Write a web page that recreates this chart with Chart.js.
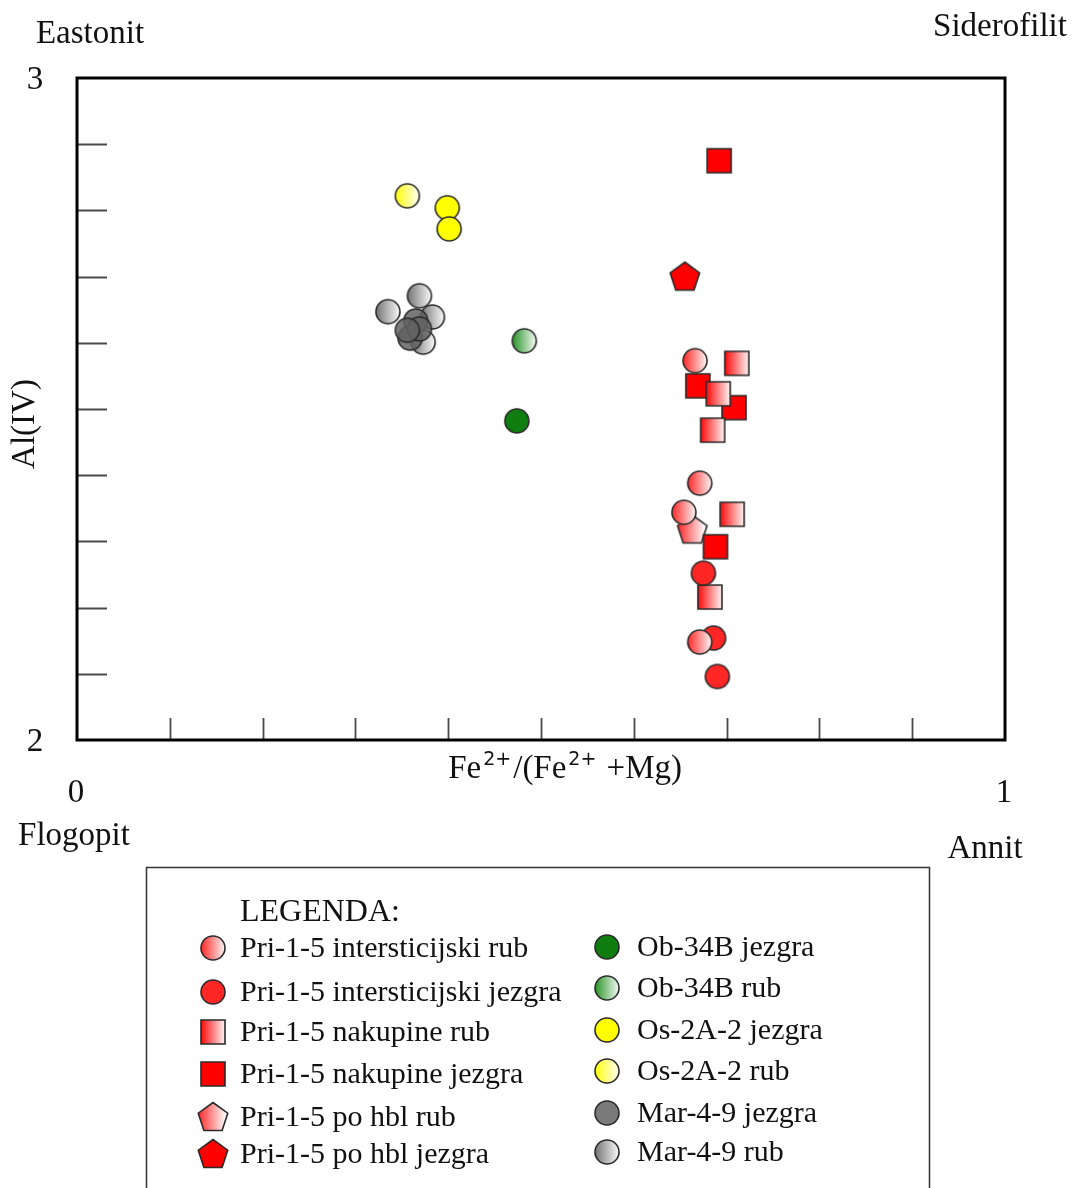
<!DOCTYPE html>
<html>
<head>
<meta charset="utf-8">
<title>Al(IV) - Fe2+/(Fe2++Mg)</title>
<script src="https://cdn.jsdelivr.net/npm/chart.js@4.4.1/dist/chart.umd.min.js"></script>
<style>
  html, body { margin: 0; padding: 0; background: #ffffff; }
  #wrap { width: 1074px; height: 1188px; }
</style>
</head>
<body>
<div id="wrap"><canvas id="biotitChart" width="1074" height="1188"></canvas></div>
<script>
// --- data: [Fe2+/(Fe2++Mg), Al(IV)] ---
const priIntersticijskiRub = [[0.666, 2.573], [0.671, 2.388], [0.654, 2.344], [0.671, 2.148]];
const priIntersticijskiJezgra = [[0.675, 2.252], [0.686, 2.154], [0.690, 2.096]];
const priNakupineRub = [[0.711, 2.569], [0.691, 2.523], [0.685, 2.468], [0.706, 2.341], [0.682, 2.216]];
const priNakupineJezgra = [[0.692, 2.875], [0.669, 2.535], [0.708, 2.502], [0.688, 2.292]];
const priHblRub = [[0.663, 2.318]];
const priHblJezgra = [[0.655, 2.700]];
const obJezgra = [[0.474, 2.482]];
const obRub = [[0.482, 2.603]];
const osJezgra = [[0.399, 2.804], [0.401, 2.772]];
const osRub = [[0.356, 2.822]];
const marJezgra = [[0.365, 2.633], [0.359, 2.607], [0.369, 2.621], [0.356, 2.619]];
const marRub = [[0.335, 2.647], [0.369, 2.671], [0.383, 2.639], [0.373, 2.601]];

const seriesLabels = [
  'Pri-1-5 intersticijski rub', 'Pri-1-5 intersticijski jezgra', 'Pri-1-5 nakupine rub',
  'Pri-1-5 nakupine jezgra', 'Pri-1-5 po hbl rub', 'Pri-1-5 po hbl jezgra',
  'Ob-34B jezgra', 'Ob-34B rub', 'Os-2A-2 jezgra', 'Os-2A-2 rub', 'Mar-4-9 jezgra', 'Mar-4-9 rub'
];
const seriesData = [
  priIntersticijskiRub, priIntersticijskiJezgra, priNakupineRub, priNakupineJezgra, priHblRub, priHblJezgra,
  obJezgra, obRub, osJezgra, osRub, marJezgra, marRub
];

// axis ticks
const xTickValues = [0.1, 0.2, 0.3, 0.4, 0.5, 0.6, 0.7, 0.8, 0.9];
const yTickValues = [2.1, 2.2, 2.3, 2.4, 2.5, 2.6, 2.7, 2.8, 2.9];
const xTickLabels = ['0', '1'];
const yTickLabels = ['2', '3'];

// --- marker look per series: shape, base colour, gradient (rub) or not ---
const markerStyles = [
  { shape: 'circle', color: '#ff1e1e', rub: true },
  { shape: 'circle', color: '#ff1414', rub: false, alpha: 0.92 },
  { shape: 'square', color: '#ff0000', rub: true },
  { shape: 'square', color: '#ff0000', rub: false },
  { shape: 'pentagon', color: '#ff1e1e', rub: true, alpha: 0.9 },
  { shape: 'pentagon', color: '#ff0000', rub: false },
  { shape: 'circle', color: '#0f7d0f', rub: false },
  { shape: 'circle', color: '#1f8f1f', rub: true },
  { shape: 'circle', color: '#ffff00', rub: false },
  { shape: 'circle', color: '#ffff00', rub: true },
  { shape: 'circle', color: '#636363', rub: false, alpha: 0.85 },
  { shape: 'circle', color: '#6e6e6e', rub: true }
];

function makeMarker(st) {
  const size = st.shape === 'pentagon' ? 36 : 30;
  const c = document.createElement('canvas');
  c.width = size;
  c.height = size;
  const ctx = c.getContext('2d');
  const m = size / 2;
  ctx.beginPath();
  if (st.shape === 'circle') {
    ctx.arc(m, m, 12, 0, Math.PI * 2);
  } else if (st.shape === 'square') {
    ctx.rect(m - 12, m - 12, 24, 24);
  } else {
    for (let i = 0; i < 5; i++) {
      const a = (-90 + 72 * i) * Math.PI / 180;
      const px = m + 15.5 * Math.cos(a);
      const py = m + 1 + 15.5 * Math.sin(a);
      if (i === 0) ctx.moveTo(px, py); else ctx.lineTo(px, py);
    }
  }
  ctx.closePath();
  let fill = st.color;
  if (st.rub) {
    const g = ctx.createLinearGradient(m - 13, 0, m + 13, 0);
    g.addColorStop(0, st.color);
    g.addColorStop(1, '#ffffff');
    fill = g;
  }
  ctx.globalAlpha = st.alpha || 1;
  ctx.fillStyle = fill;
  ctx.fill();
  ctx.globalAlpha = 1;
  ctx.lineWidth = 1.6;
  ctx.strokeStyle = '#2a2a2a';
  ctx.stroke();
  return c;
}

const markers = markerStyles.map(makeMarker);

const SERIF = '"Liberation Serif", "Times New Roman", serif';

// frame, inward ticks, labels and the boxed legend
const diagramDecor = {
  id: 'diagramDecor',
  beforeDatasetsDraw(chart) {
    const { ctx, chartArea: ca, scales: { x, y } } = chart;
    ctx.save();
    ctx.strokeStyle = '#4a4a4a';
    ctx.lineWidth = 1.8;
    ctx.beginPath();
    yTickValues.forEach(v => {
      const py = Math.round(y.getPixelForValue(v)) + 0.5;
      ctx.moveTo(ca.left, py);
      ctx.lineTo(ca.left + 30, py);
    });
    xTickValues.forEach(v => {
      const px = Math.round(x.getPixelForValue(v)) + 0.5;
      ctx.moveTo(px, ca.bottom);
      ctx.lineTo(px, ca.bottom - 22);
    });
    ctx.stroke();
    ctx.strokeStyle = '#000000';
    ctx.lineWidth = 3;
    ctx.strokeRect(ca.left, ca.top, ca.right - ca.left, ca.bottom - ca.top);
    ctx.restore();
  },
  afterDraw(chart) {
    const { ctx, chartArea: ca, scales: { x, y } } = chart;
    ctx.save();
    ctx.fillStyle = '#111111';
    ctx.font = '33px ' + SERIF;
    ctx.textAlign = 'center';
    ctx.textBaseline = 'alphabetic';

    // end tick labels
    yTickLabels.forEach(t => {
      ctx.fillText(t, ca.left - 42, y.getPixelForValue(Number(t)) + 11);
    });
    xTickLabels.forEach(t => {
      ctx.fillText(t, x.getPixelForValue(Number(t)) - 1, ca.bottom + 62);
    });

    // end-member names in the corners
    ctx.fillText('Eastonit', ca.left + 13, ca.top - 35);
    ctx.fillText('Siderofilit', ca.right - 5, ca.top - 42);
    ctx.fillText('Flogopit', ca.left - 3, ca.bottom + 105);
    ctx.fillText('Annit', ca.right - 20, ca.bottom + 118);

    // y title
    ctx.save();
    ctx.translate(34, (ca.top + ca.bottom) / 2 + 15);
    ctx.rotate(-Math.PI / 2);
    ctx.textBaseline = 'alphabetic';
    ctx.fillText('Al(IV)', 0, 0);
    ctx.restore();

    // x title with superscripts
    const parts = [['Fe', false], ['2+', true], ['/(Fe', false], ['2+', true], [' +Mg)', false]];
    let cx = x.getPixelForValue(0.4);
    const base = ca.bottom + 38;
    ctx.textAlign = 'left';
    parts.forEach(([txt, sup]) => {
      ctx.font = sup ? '19px "DejaVu Sans", sans-serif' : '33px ' + SERIF;
      ctx.fillText(txt, cx + (sup ? 2 : 0), sup ? base - 13 : base);
      cx += ctx.measureText(txt).width + (sup ? 4 : 0);
    });

    // legend box
    ctx.strokeStyle = '#333333';
    ctx.lineWidth = 1.5;
    ctx.strokeRect(146.5, 867.5, 783, 400);
    ctx.font = '32px ' + SERIF;
    ctx.fillText('LEGENDA:', 240, 921);
    const rowsA = [948, 992, 1032, 1074, 1117, 1154];
    const rowsB = [947, 988, 1030, 1071, 1113, 1152];
    ctx.font = '30px ' + SERIF;
    ctx.textBaseline = 'middle';
    chart.data.datasets.forEach((ds, i) => {
      const col2 = i >= 6;
      const row = col2 ? rowsB[i - 6] : rowsA[i];
      const mx = col2 ? 607 : 213;
      const img = markers[i];
      ctx.drawImage(img, mx - img.width / 2, row - img.height / 2);
      ctx.fillText(ds.label, col2 ? 637 : 240, row + 1);
    });
    ctx.restore();
  }
};

const datasets = seriesLabels.map((label, i) => ({
  label: label,
  data: seriesData[i].map(([vx, vy]) => ({ x: vx, y: vy })),
  pointStyle: markers[i],
  pointRadius: 12,
  pointHoverRadius: 12
}));

new Chart(document.getElementById('biotitChart'), {
  type: 'scatter',
  data: { datasets: datasets },
  options: {
    responsive: false,
    animation: false,
    devicePixelRatio: 1,
    layout: { padding: { left: 77, top: 78, right: 69, bottom: 448 } },
    plugins: { legend: { display: false }, tooltip: { enabled: false } },
    scales: {
      x: { type: 'linear', min: 0, max: 1, display: false },
      y: { type: 'linear', min: 2, max: 3, display: false }
    }
  },
  plugins: [diagramDecor]
});
</script>
</body>
</html>
